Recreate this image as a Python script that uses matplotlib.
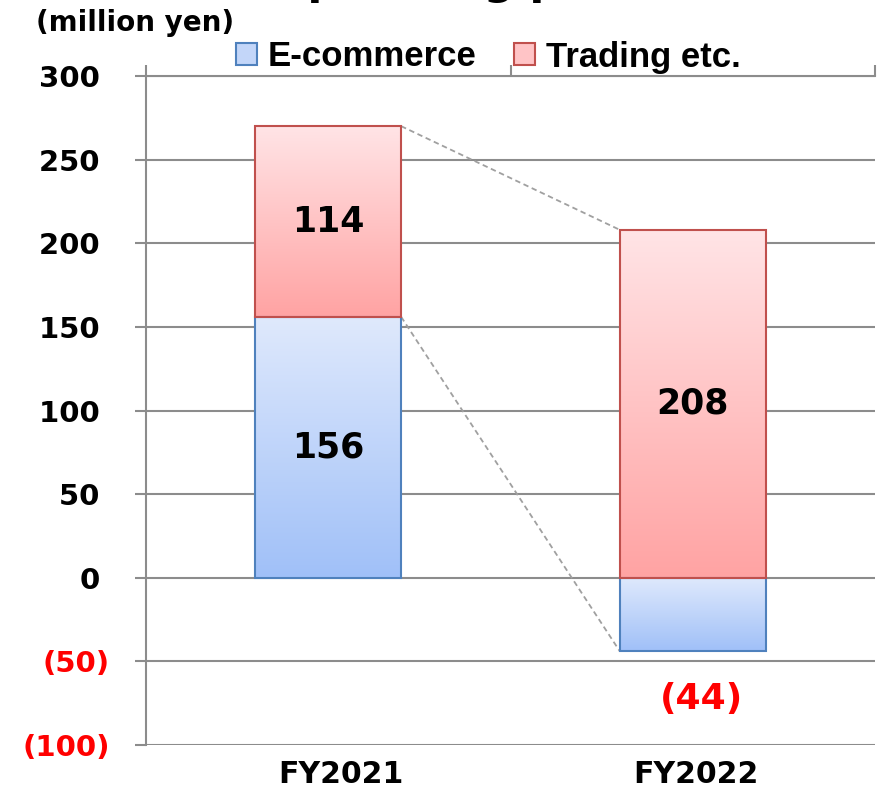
import numpy as np
import matplotlib
matplotlib.use('Agg')
from matplotlib import pyplot as plt
from matplotlib.patches import Patch
from matplotlib.colors import LinearSegmentedColormap
from matplotlib.transforms import ScaledTranslation

years = ['FY2021', 'FY2022']
ecommerce = [156, -44]
trading = [114, 208]
yticks = [-100, -50, 0, 50, 100, 150, 200, 250, 300]

legend_font = ['Liberation Sans', 'DejaVu Sans']
grid_c = '#8c8c8c'
red_neg = '#ff0000'

fig = plt.figure(figsize=(8.77, 7.88), dpi=100)
ax = fig.add_axes([146/877, 1-745/788, 729/877, (745-76)/788])

blue_cm = LinearSegmentedColormap.from_list('b', ['#a0c0f8', '#dfe9fc'])
red_cm = LinearSegmentedColormap.from_list('r', ['#ffa3a3', '#ffe4e6'])
grad = np.linspace(0, 1, 256).reshape(-1, 1)
w = 0.4

def gbar(x, y0, y1, cmap, edge):
    lo, hi = min(y0, y1), max(y0, y1)
    ax.imshow(grad, cmap=cmap, origin='lower', aspect='auto',
              extent=(x - w/2, x + w/2, lo, hi), zorder=3)
    ax.add_patch(plt.Rectangle((x - w/2, lo), w, hi - lo, fill=False,
                               edgecolor=edge, lw=1.5, zorder=4))

for i in range(len(years)):
    e = ecommerce[i]
    t = trading[i]
    gbar(i, 0, e, blue_cm, '#4f81bd')
    base = e if e > 0 else 0
    gbar(i, base, base + t, red_cm, '#c0504d')

# connector lines between the two bars
x0 = 0 + w/2
x1 = 1 - w/2
ax.plot([x0, x1], [ecommerce[0] + trading[0], trading[1]], ls=(0, (3, 2)),
        color='#a0a0a0', lw=1.3, zorder=2)
ax.plot([x0, x1], [ecommerce[0], ecommerce[1]], ls=(0, (3, 2)),
        color='#a0a0a0', lw=1.3, zorder=2)

# value labels
ax.text(0, ecommerce[0] / 2, str(ecommerce[0]), ha='center', va='center',
        fontsize=25, fontweight='bold', zorder=5)
ax.text(0, ecommerce[0] + trading[0] / 2, str(trading[0]), ha='center',
        va='center', fontsize=25, fontweight='bold', zorder=5)
ax.text(1, trading[1] / 2, str(trading[1]), ha='center', va='center',
        fontsize=25, fontweight='bold', zorder=5)
ax.annotate('(%d)' % abs(ecommerce[1]), (1, ecommerce[1]), xytext=(6, -34),
            textcoords='offset points', ha='center', va='center',
            fontsize=26, fontweight='bold', color=red_neg, zorder=5)

ax.set_xlim(-0.5, 1.5)
ax.set_ylim(-100, 300)
ax.set_yticks(yticks)
ax.set_yticklabels([('(%d)' % -v) if v < 0 else ('%d ' % v) for v in yticks],
                   fontsize=21, fontweight='bold')
for lab, v in zip(ax.get_yticklabels(), yticks):
    if v < 0:
        lab.set_color(red_neg)
ax.tick_params(axis='y', length=8, width=1.5, color=grid_c, pad=18)
ax.grid(axis='y', color=grid_c, lw=1.5, zorder=0)
ax.set_axisbelow(True)

ax.set_xticks([0, 1])
ax.set_xticklabels(years, fontsize=21.5, fontweight='bold')
ax.tick_params(axis='x', length=0, pad=11)
for lab, dx in zip(ax.get_xticklabels(), [13, 3]):
    lab.set_transform(lab.get_transform() + ScaledTranslation(dx/100, 0, fig.dpi_scale_trans))
ax.set_xticks([-0.5, 0.5, 1.5], minor=True)
ax.tick_params(axis='x', which='minor', top=True, bottom=False,
               direction='out', length=8, width=1.5, color=grid_c)

for s in ['right', 'bottom']:
    ax.spines[s].set_visible(False)
ax.spines['top'].set_color(grid_c)
ax.spines['top'].set_linewidth(1.5)
ax.spines['left'].set_color(grid_c)
ax.spines['left'].set_linewidth(1.5)

handles = [Patch(facecolor='#c3d6f9', edgecolor='#4f81bd', lw=1.5),
           Patch(facecolor='#ffc4c6', edgecolor='#c0504d', lw=1.5)]
fig.legend(handles, ['E-commerce', 'Trading etc.'], ncol=2, frameon=False,
           loc='center left', bbox_to_anchor=(236/877, 1-57/788),
           borderpad=0, borderaxespad=0, handlelength=0.6, handleheight=0.6,
           handletextpad=0.3, columnspacing=1.1,
           prop={'family': legend_font, 'weight': 'bold', 'size': 25})

fig.text(36/877, 1-23/788, '(million yen)', ha='left', va='center',
         fontweight='bold', fontsize=20)
fig.text(468/877, 1 + 6/788, 'Operating profit', ha='center', va='baseline',
         fontsize=31, fontweight='bold')

fig.savefig('out.png', dpi=100)
